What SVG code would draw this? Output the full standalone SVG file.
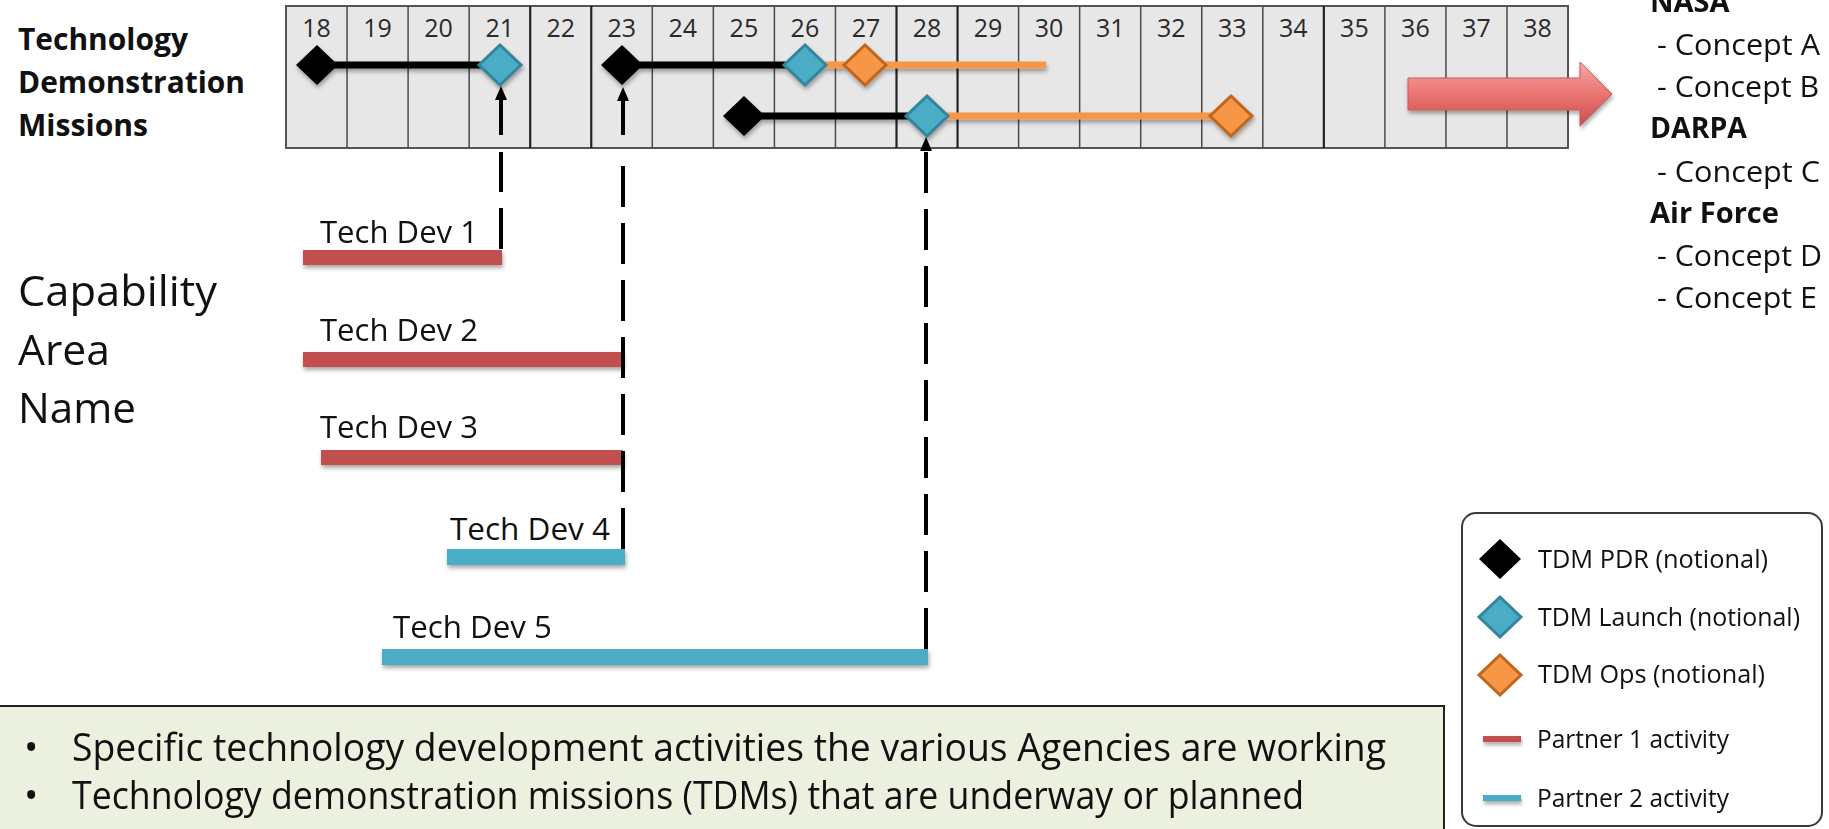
<svg xmlns="http://www.w3.org/2000/svg" width="1829" height="829" viewBox="0 0 1829 829">
<style>
text{font-family:"Open Sans","Liberation Sans",sans-serif;fill:#111}
.b{font-weight:bold}
.num{font-size:25px;fill:#2a2a2a;text-anchor:middle}
.col{stroke:#4a4a4a;stroke-width:1.5}
.colk{stroke:#222;stroke-width:2.2}
.td{font-size:31px}
.cp{font-size:30px}
.lg{font-size:25px}
.bul{font-size:38px}
.dash{fill:none;stroke:#000;stroke-width:4;stroke-dasharray:41 16}
.solid{fill:none;stroke:#000;stroke-width:4}
.blk{fill:#000}
.blu{fill:#4bacc6;stroke:#31859c;stroke-width:3}
.org{fill:#f79646;stroke:#c0651a;stroke-width:3}
.red{fill:#c0504d}
.cyan{fill:#4bacc6}
</style>
<defs>
<path id="dia" d="M0,-20 L21,0 L0,20 L-21,0Z"/>
<marker id="ah" viewBox="0 0 14 12" refX="0" refY="6" markerWidth="14" markerHeight="12" markerUnits="userSpaceOnUse" orient="auto">
<path d="M0,0 L14,6 L0,12Z" fill="#000"/>
</marker>
<filter id="sh" x="-5%" y="-50%" width="110%" height="250%">
<feDropShadow dx="1" dy="3" stdDeviation="2" flood-color="#000" flood-opacity="0.35"/>
</filter>
<linearGradient id="ag" x1="0" y1="0" x2="0" y2="1">
<stop offset="0" stop-color="#f7a9a8"/>
<stop offset="0.5" stop-color="#e97472"/>
<stop offset="1" stop-color="#cc4f4c"/>
</linearGradient>
</defs>
<rect width="1829" height="829" fill="#fff"/>

<g id="title-tdm">
<text class="b" x="18" y="50" font-size="31" textLength="170" lengthAdjust="spacingAndGlyphs">Technology</text>
<text class="b" x="18" y="93" font-size="31" textLength="227" lengthAdjust="spacingAndGlyphs">Demonstration</text>
<text class="b" x="18" y="136" font-size="31" textLength="130" lengthAdjust="spacingAndGlyphs">Missions</text>
</g>

<g id="timeline">
<rect x="286" y="6" width="1282" height="142" fill="#e7e7e7" stroke="#555" stroke-width="2"/>
<g>
<line class="col" x1="347.05" y1="6" x2="347.05" y2="148"/>
<line class="col" x1="408.1" y1="6" x2="408.1" y2="148"/>
<line class="col" x1="469.15" y1="6" x2="469.15" y2="148"/>
<line class="colk" x1="530.2" y1="6" x2="530.2" y2="148"/>
<line class="colk" x1="591.25" y1="6" x2="591.25" y2="148"/>
<line class="col" x1="652.3" y1="6" x2="652.3" y2="148"/>
<line class="col" x1="713.35" y1="6" x2="713.35" y2="148"/>
<line class="col" x1="774.4" y1="6" x2="774.4" y2="148"/>
<line class="col" x1="835.45" y1="6" x2="835.45" y2="148"/>
<line class="colk" x1="896.5" y1="6" x2="896.5" y2="148"/>
<line class="colk" x1="957.55" y1="6" x2="957.55" y2="148"/>
<line class="col" x1="1018.6" y1="6" x2="1018.6" y2="148"/>
<line class="col" x1="1079.65" y1="6" x2="1079.65" y2="148"/>
<line class="col" x1="1140.7" y1="6" x2="1140.7" y2="148"/>
<line class="col" x1="1201.75" y1="6" x2="1201.75" y2="148"/>
<line class="col" x1="1262.8" y1="6" x2="1262.8" y2="148"/>
<line class="colk" x1="1323.85" y1="6" x2="1323.85" y2="148"/>
<line class="col" x1="1384.9" y1="6" x2="1384.9" y2="148"/>
<line class="col" x1="1445.95" y1="6" x2="1445.95" y2="148"/>
<line class="col" x1="1507" y1="6" x2="1507" y2="148"/>
</g>
<g>
<text class="num" x="316.5" y="37">18</text>
<text class="num" x="377.6" y="37">19</text>
<text class="num" x="438.6" y="37">20</text>
<text class="num" x="499.7" y="37">21</text>
<text class="num" x="560.7" y="37">22</text>
<text class="num" x="621.8" y="37">23</text>
<text class="num" x="682.8" y="37">24</text>
<text class="num" x="743.9" y="37">25</text>
<text class="num" x="804.9" y="37">26</text>
<text class="num" x="866" y="37">27</text>
<text class="num" x="927" y="37">28</text>
<text class="num" x="988.1" y="37">29</text>
<text class="num" x="1049.1" y="37">30</text>
<text class="num" x="1110.2" y="37">31</text>
<text class="num" x="1171.2" y="37">32</text>
<text class="num" x="1232.3" y="37">33</text>
<text class="num" x="1293.3" y="37">34</text>
<text class="num" x="1354.4" y="37">35</text>
<text class="num" x="1415.4" y="37">36</text>
<text class="num" x="1476.5" y="37">37</text>
<text class="num" x="1537.5" y="37">38</text>
</g>
</g>

<g id="tdm-1" filter="url(#sh)">
<line x1="317" y1="65" x2="500" y2="65" stroke="#000" stroke-width="7"/>
<use href="#dia" x="317" y="65" class="blk"/>
<use href="#dia" x="500" y="65" class="blu"/>
</g>
<g id="tdm-2" filter="url(#sh)">
<line x1="622" y1="65" x2="805" y2="65" stroke="#000" stroke-width="7"/>
<line x1="805" y1="65" x2="1046" y2="65" stroke="#f79646" stroke-width="7"/>
<use href="#dia" x="622" y="65" class="blk"/>
<use href="#dia" x="805" y="65" class="blu"/>
<use href="#dia" x="865" y="65" class="org"/>
</g>
<g id="tdm-3" filter="url(#sh)">
<line x1="744" y1="116" x2="927" y2="116" stroke="#000" stroke-width="7"/>
<line x1="927" y1="116" x2="1231" y2="116" stroke="#f79646" stroke-width="7"/>
<use href="#dia" x="744" y="116" class="blk"/>
<use href="#dia" x="927" y="116" class="blu"/>
<use href="#dia" x="1231" y="116" class="org"/>
</g>

<g id="arrow-concepts" filter="url(#sh)">
<polygon points="1408,78 1580,78 1580,62 1612,94 1580,126 1580,110 1408,110" fill="url(#ag)" stroke="#c65a57" stroke-width="1"/>
</g>

<g id="concepts">
<text class="b" x="1650" y="12" font-size="29">NASA</text>
<text class="cp" x="1657" y="55" textLength="163" lengthAdjust="spacingAndGlyphs">- Concept A</text>
<text class="cp" x="1657" y="97" textLength="162" lengthAdjust="spacingAndGlyphs">- Concept B</text>
<text class="b" x="1650" y="138" font-size="29" textLength="97" lengthAdjust="spacingAndGlyphs">DARPA</text>
<text class="cp" x="1657" y="182" textLength="163" lengthAdjust="spacingAndGlyphs">- Concept C</text>
<text class="b" x="1650" y="223" font-size="29" textLength="129" lengthAdjust="spacingAndGlyphs">Air Force</text>
<text class="cp" x="1657" y="266" textLength="165" lengthAdjust="spacingAndGlyphs">- Concept D</text>
<text class="cp" x="1657" y="308" textLength="160" lengthAdjust="spacingAndGlyphs">- Concept E</text>
</g>

<g id="capability-label">
<text x="18" y="306" font-size="42" textLength="199" lengthAdjust="spacingAndGlyphs">Capability</text>
<text x="18" y="365" font-size="42" textLength="92" lengthAdjust="spacingAndGlyphs">Area</text>
<text x="18" y="423" font-size="42" textLength="118" lengthAdjust="spacingAndGlyphs">Name</text>
</g>

<g id="td1">
<rect class="red" x="303" y="250" width="199" height="15" filter="url(#sh)"/>
<text class="td" x="320" y="243" textLength="158" lengthAdjust="spacingAndGlyphs">Tech Dev 1</text>
</g>
<g id="td2">
<rect class="red" x="303" y="352" width="320" height="15" filter="url(#sh)"/>
<text class="td" x="320" y="341" textLength="158" lengthAdjust="spacingAndGlyphs">Tech Dev 2</text>
</g>
<g id="td3">
<rect class="red" x="321" y="450" width="302" height="15" filter="url(#sh)"/>
<text class="td" x="320" y="438" textLength="158" lengthAdjust="spacingAndGlyphs">Tech Dev 3</text>
</g>
<g id="td4">
<rect class="cyan" x="447" y="549" width="178" height="16" filter="url(#sh)"/>
<text class="td" x="450" y="540" textLength="160" lengthAdjust="spacingAndGlyphs">Tech Dev 4</text>
</g>
<g id="td5">
<rect class="cyan" x="382" y="649" width="546" height="16" filter="url(#sh)"/>
<text class="td" x="393" y="638" textLength="159" lengthAdjust="spacingAndGlyphs">Tech Dev 5</text>
</g>

<g id="connectors">
<path class="dash" d="M501,249 V152"/>
<path class="solid" d="M501,135 V100" marker-end="url(#ah)"/>
<path class="dash" d="M623,549 V162"/>
<path class="solid" d="M623,135 V101" marker-end="url(#ah)"/>
<path class="dash" d="M926,649 V151" marker-end="url(#ah)"/>
</g>

<g id="legend">
<rect x="1462" y="513" width="360" height="313" rx="14" fill="#fff" stroke="#3a3a3a" stroke-width="2"/>
<use href="#dia" x="1500" y="559" class="blk"/>
<text class="lg" x="1538" y="568" textLength="230" lengthAdjust="spacingAndGlyphs">TDM PDR (notional)</text>
<use href="#dia" x="1500" y="617" class="blu"/>
<text class="lg" x="1538" y="626" textLength="262" lengthAdjust="spacingAndGlyphs">TDM Launch (notional)</text>
<use href="#dia" x="1500" y="675" class="org"/>
<text class="lg" x="1538" y="683" textLength="227" lengthAdjust="spacingAndGlyphs">TDM Ops (notional)</text>
<rect class="red" x="1483" y="736" width="38" height="6" filter="url(#sh)"/>
<text class="lg" x="1537" y="748" font-size="24" textLength="192" lengthAdjust="spacingAndGlyphs">Partner 1 activity</text>
<rect class="cyan" x="1483" y="795" width="38" height="6" filter="url(#sh)"/>
<text class="lg" x="1537" y="807" font-size="24" textLength="192" lengthAdjust="spacingAndGlyphs">Partner 2 activity</text>
</g>

<g id="notes">
<rect x="-2" y="706" width="1446" height="130" fill="#ebf1de" stroke="#222" stroke-width="2"/>
<text class="bul" x="24" y="761">•</text>
<text class="bul" x="72" y="761" textLength="1314" lengthAdjust="spacingAndGlyphs">Specific technology development activities the various Agencies are working</text>
<text class="bul" x="24" y="809">•</text>
<text class="bul" x="72" y="809" textLength="1232" lengthAdjust="spacingAndGlyphs">Technology demonstration missions (TDMs) that are underway or planned</text>
</g>
</svg>
